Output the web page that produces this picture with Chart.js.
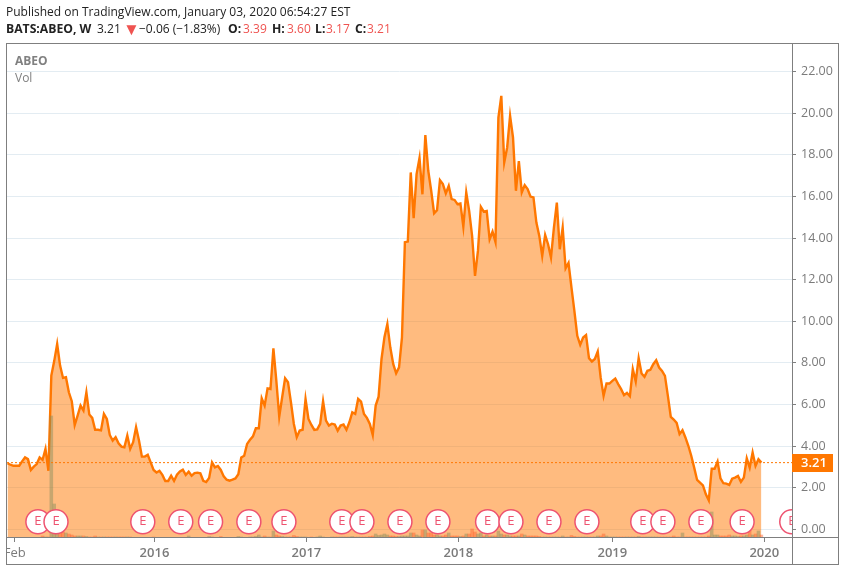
<!DOCTYPE html>
<html>
<head>
<meta charset="utf-8">
<script src="https://cdn.jsdelivr.net/npm/chart.js@4"></script>
<style>
  html, body { margin: 0; padding: 0; background: #fff; }
  #wrap { position: relative; width: 846px; height: 572px; overflow: hidden; font-family: "Open Sans", sans-serif; }
  canvas { position: absolute; left: 0; top: 0; }
  .txt { position: absolute; white-space: pre; font-size: 12px; line-height: 14px; color: #222; }
  .red { color: #ef5350; }
  .neg { font-weight: 700; font-size: 12.2px; }
</style>
</head>
<body>
<div id="wrap">
  <canvas id="grafico" width="846" height="572"></canvas>
  <div class="txt" style="left:6px;top:5px">Published on TradingView.com, January 03, 2020 06:54:27 EST</div>
  <div class="txt neg" style="left:6px;top:22px">BATS:ABEO, W</div>
  <div class="txt" style="left:97px;top:22px">3.21</div>
  <div class="txt red" style="left:123px;top:22px;font-size:17px">▼</div>
  <div class="txt" style="left:139px;top:22px">−0.06 (−1.83%)</div>
  <div class="txt neg" style="left:228px;top:22px">O:</div>
  <div class="txt red" style="left:243px;top:22px">3.39</div>
  <div class="txt neg" style="left:272px;top:22px">H:</div>
  <div class="txt red" style="left:287px;top:22px">3.60</div>
  <div class="txt neg" style="left:315px;top:22px">L:</div>
  <div class="txt red" style="left:326px;top:22px">3.17</div>
  <div class="txt neg" style="left:355px;top:22px">C:</div>
  <div class="txt red" style="left:367px;top:22px">3.21</div>
  <div class="txt" style="left:15px;top:54px;color:#808080;font-weight:700">ABEO</div>
  <div class="txt" style="left:15px;top:71px;color:#808080">Vol</div>
</div>
<script>
// fechamento semanal
const closes = [
  3.18,3.11,3.06,3.06,3.06,3.27,3.46,3.38,2.86,3.02,
  3.14,3.46,3.34,3.87,2.82,7.39,8.1,8.91,7.87,7.28,
  7.31,6.59,6.16,5.02,5.47,5.95,5.71,6.59,5.52,5.36,
  4.79,4.79,4.76,5.55,5.31,4.54,4.27,4.43,4.14,3.98,
  3.95,4.51,3.87,4.19,4.91,4.27,3.5,3.5,3.59,3.22,
  2.86,2.74,2.82,2.62,2.33,2.33,2.58,2.33,2.63,2.79,
  2.87,2.62,2.78,2.58,2.71,2.73,2.7,2.34,2.28,2.47,
  3.22,2.98,3.05,2.86,2.55,2.39,2.34,2.39,2.45,2.65,
  3.46,3.54,4.11,4.31,4.47,4.86,4.86,6.3,5.95,6.78,
  6.75,8.7,7.15,5.42,6.35,7.26,7.07,6.11,5.07,4.43,
  4.75,4.79,6.27,5.31,5.02,4.78,4.81,5.07,6.16,5.23,
  4.99,5.08,5.04,4.75,4.99,5.04,4.79,5.15,5.63,5.55,
  6.27,6.14,5.55,5.36,5.07,4.54,5.95,6.38,8.19,9.23,
  9.87,8.75,7.95,7.5,7.79,9.23,13.8,13.83,17.15,14.95,
  17.07,17.84,16.1,18.94,17.23,16.27,15.19,15.34,16.78,16.59,
  16.14,16.5,15.87,15.83,15.63,15.66,14.55,16.19,15.3,14.1,
  12.18,13.38,15.5,15.27,15.3,13.94,14.31,13.81,19.79,20.83,
  17.63,18.35,19.87,18.83,16.27,17.7,16.19,16.54,16.35,15.99,
  15.95,14.74,14.1,13.14,14.15,13.7,13.06,14.5,15.7,13.46,
  14.5,12.54,12.8,11.63,10.5,9.3,8.87,9.22,9.34,8.23,
  8.07,8.19,8.55,7.3,6.42,7.01,7.01,7.14,7.25,6.98,
  6.74,6.45,6.56,6.4,7.7,7.11,8.23,7.49,7.33,7.62,
  7.67,7.94,8.13,7.78,7.62,7.38,6.42,5.41,5.28,5.12,
  4.58,4.77,4.42,4.02,3.54,2.97,2.38,2.25,2.12,1.69,
  1.4,2.92,2.92,3.26,2.46,2.22,2.2,2.14,2.44,2.49,
  2.57,2.29,2.49,3.42,2.97,3.7,3.05,3.37,3.21
];

// volume em unidades relativas (sem eixo visivel)
const volumes = [
  .5,.5,.5,.5,.5,.5,.5,.5,.5,.5,
  .5,.5,2,1,1,122,34,12,8,6,
  5,4,3,2,2,2,2,1.5,1,1,
  2,1,1,1,1,1,1,1,1,1,
  1,1,1,.5,.5,.5,.5,.5,.5,.5,
  1,.5,.5,.5,.5,.5,.5,.5,.5,.5,
  .5,.5,2,.5,.5,.5,.5,.5,.5,1.5,
  1,.5,.5,1.5,.5,.5,.5,.5,.5,1.5,
  1,.5,.5,1,1,1.5,3,1,2,1,
  1,7,3,2,1.5,1,1,1,2.5,1.5,
  1,1,1,.5,1,.5,1,2,1,.5,
  .5,1,1,1,1,1,1,1,1.5,1,
  1,1,1,1,1.5,2,4,2.5,3,4,
  3,2,2,1.5,1.5,2,2,2,5,5,
  3,2,8,8,5,5,3,3,2,2,
  3,5,2,2,2,1.5,2,4,4,9,
  6,4,5,2,3,2,2,2,7,4,
  3,3,2,2,2,2,4,3,2,2,
  2,2,1.5,1,1,1,1,1,1,1,
  2,1,1,2.5,1.5,1,1,1,1,1,
  1,1,2,2,4,2,1,1,1,1,
  1,1,1,1,1,1,1.5,1,1,1,
  1,1,1,1,1,1,1,1,2,1,
  1,5,1,1,1,1,1,1,1,1,
  2,26,3,3,2,2,2,3,2,2,
  1.5,2,2,3,8,3,4,7,3
];

const earningsWeeks = [10.4,16.6,46.3,59.3,69.5,82.6,94.6,114.4,121.3,134.3,147.3,164.3,172.3,185.3,198.3,217.4,224.3,237.3,251.4,268.4];
const earningsLevel = 0.37;

const priceTicks = [0,2,4,6,8,10,12,14,16,18,20,22];
const timeTicks = [2.5,50.3,102.3,154.3,207,259];
const timeLabels = ['Feb','2016','2017','2018','2019','2020'];
const lastPrice = 3.21;

const xMin = -0.17, xMax = 268.48;

const cores = {
    line: '#ff7700',
    area: 'rgba(255, 119, 0, 0.5)',
    volUp: 'rgba(130, 140, 90, 0.45)',
    volDown: 'rgba(255, 90, 40, 0.45)',
    grid: '#e3ecf2',
    frame: '#7f7f7f',
    text: '#7b7b7b',
    marker: '#ee5370'
};

// moldura, etiqueta do preco e letras E
const extras = {
    id: 'extras',
    afterDatasetsDraw(chart) {
        const { ctx, chartArea, scales } = chart;
        ctx.save();
        ctx.beginPath();
        ctx.rect(chartArea.left, chartArea.top, chartArea.right - chartArea.left, chartArea.bottom - chartArea.top);
        ctx.clip();
        ctx.fillStyle = cores.marker;
        ctx.font = '13px "Open Sans"';
        ctx.textAlign = 'center';
        ctx.textBaseline = 'middle';
        earningsWeeks.forEach(w => {
            ctx.fillText('E', scales.x.getPixelForValue(w), scales.y.getPixelForValue(earningsLevel));
        });
        ctx.restore();
    },
    afterDraw(chart) {
        const { ctx, scales } = chart;
        ctx.save();
        ctx.fillStyle = '#fff';
        ctx.fillRect(0, 43, 6, 529);

        ctx.strokeStyle = cores.frame;
        ctx.lineWidth = 1;
        ctx.strokeRect(6.5, 43.5, 832, 521);
        ctx.beginPath();
        ctx.moveTo(792.5, 43);
        ctx.lineTo(792.5, 565);
        ctx.moveTo(6, 537.5);
        ctx.lineTo(839, 537.5);
        ctx.stroke();

        const y = scales.y.getPixelForValue(lastPrice);
        ctx.fillStyle = cores.line;
        ctx.fillRect(792, Math.round(y) - 9, 41, 18);
        ctx.fillStyle = '#fff';
        ctx.font = '600 13px "Open Sans"';
        ctx.textAlign = 'left';
        ctx.textBaseline = 'middle';
        ctx.fillText(lastPrice.toFixed(2), 801, y + 1);
        ctx.restore();
    }
};

new Chart(document.getElementById('grafico'), {
    data: {
        datasets: [
            {
                type: 'line',
                data: earningsWeeks.map(w => ({ x: w, y: earningsLevel })),
                showLine: false,
                pointRadius: 12,
                pointBackgroundColor: '#fff',
                pointBorderColor: cores.marker,
                pointBorderWidth: 1.5,
                clip: 0,
                order: 0
            },
            {
                type: 'line',
                data: [{ x: xMin, y: lastPrice }, { x: xMax, y: lastPrice }],
                borderColor: cores.line,
                borderWidth: 1,
                borderDash: [2, 2],
                pointRadius: 0,
                order: 1
            },
            {
                type: 'bar',
                yAxisID: 'yVol',
                data: volumes.map((v, i) => ({ x: i, y: v })),
                backgroundColor: volumes.map((v, i) => (i === 0 || closes[i] >= closes[i - 1]) ? cores.volUp : cores.volDown),
                barThickness: 2.9,
                order: 2
            },
            {
                type: 'line',
                data: closes.map((c, i) => ({ x: i, y: c })),
                borderColor: cores.line,
                borderWidth: 2.4,
                backgroundColor: cores.area,
                fill: 'start',
                pointRadius: 0,
                tension: 0,
                order: 3
            }
        ]
    },
    options: {
        responsive: false,
        animation: false,
        events: [],
        layout: { autoPadding: false, padding: { left: 7, top: 44, right: 0, bottom: 0 } },
        plugins: { legend: { display: false }, tooltip: { enabled: false } },
        scales: {
            x: {
                type: 'linear',
                offset: false,
                min: xMin,
                max: xMax,
                afterBuildTicks: s => { s.ticks = timeTicks.map(v => ({ value: v })); },
                afterFit: s => { s.height = 34; s.paddingLeft = 0; s.paddingRight = 0; },
                border: { display: false },
                grid: { offset: false, drawOnChartArea: false, tickLength: 4, tickColor: cores.frame },
                ticks: {
                    autoSkip: false,
                    maxRotation: 0,
                    padding: 3,
                    color: cores.text,
                    font: c => ({ family: 'Open Sans', size: 13, weight: c.index === 0 ? 'normal' : '600' }),
                    callback: (v, i) => timeLabels[i]
                }
            },
            y: {
                position: 'right',
                min: -0.41,
                max: 23.32,
                afterBuildTicks: s => { s.ticks = priceTicks.map(v => ({ value: v })); },
                afterFit: s => { s.width = 54; s.paddingTop = 0; s.paddingBottom = 0; },
                border: { display: false },
                grid: { color: cores.grid, tickLength: 4, tickColor: cores.frame },
                ticks: {
                    padding: 5,
                    color: cores.text,
                    font: { family: 'Open Sans', size: 12.5 },
                    callback: v => v.toFixed(2)
                }
            },
            yVol: {
                display: false,
                min: 0,
                max: 494
            }
        }
    },
    plugins: [extras]
});
</script>
</body>
</html>
